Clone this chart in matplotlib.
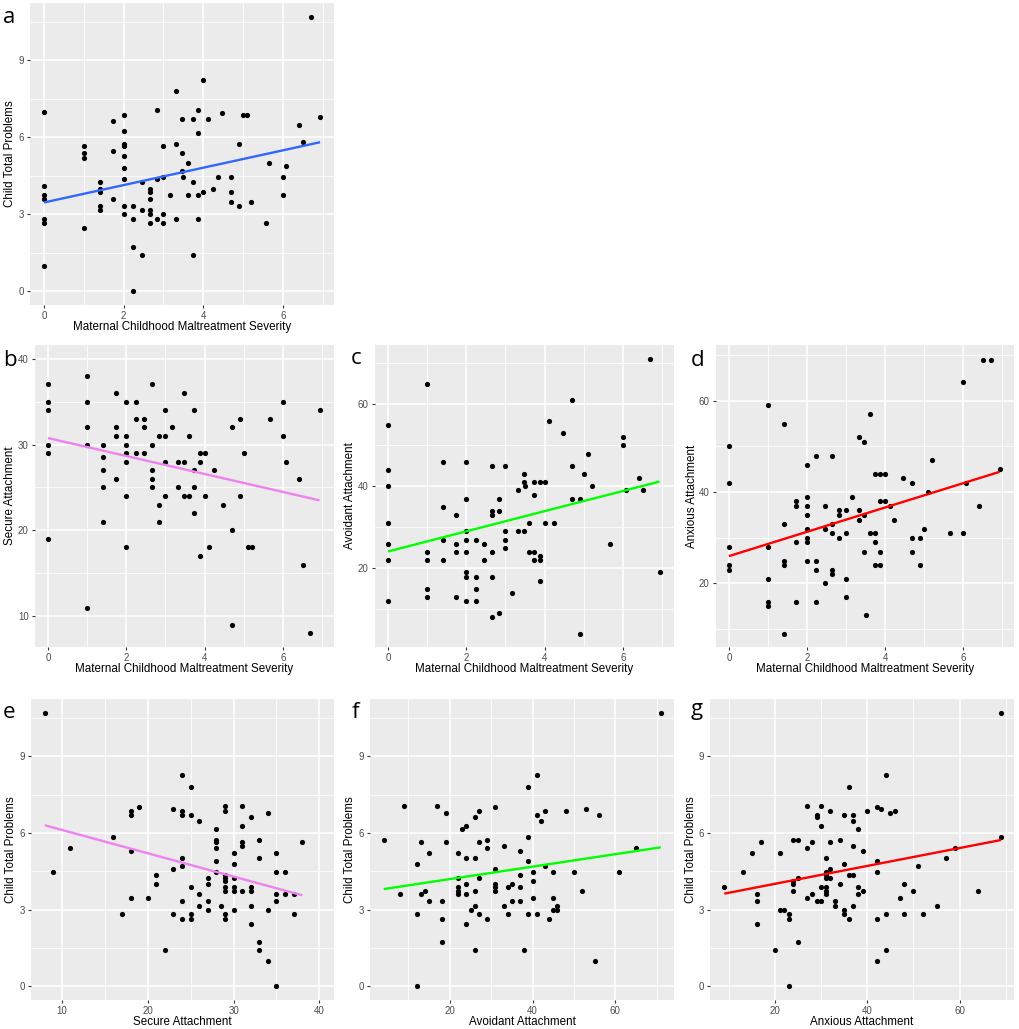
import numpy as np
import matplotlib
matplotlib.use('Agg')
import matplotlib.pyplot as plt
from matplotlib.ticker import MultipleLocator

plt.rcParams['font.family'] = ['Liberation Sans', 'DejaVu Sans']

# a: maltreatment severity vs child total problems
a_x = [0, 0, 0, 0, 0, 0, 0, 1, 1, 1, 1, 1.41, 1.41, 1.41, 1.41, 1.41, 1.73, 1.73, 1.73,
       2, 2, 2, 2, 2, 2, 2, 2, 2, 2.24, 2.24, 2.24, 2.24, 2.45, 2.45, 2.45,
       2.65, 2.65, 2.65, 2.65, 2.65, 2.65, 2.83, 2.83, 2.83, 3, 3, 3, 3, 3.16,
       3.32, 3.32, 3.32, 3.46, 3.46, 3.46, 3.5, 3.61, 3.61, 3.74, 3.74, 3.74,
       3.87, 3.87, 3.87, 3.87, 4, 4, 4.12, 4.24, 4.36, 4.47, 4.69, 4.69, 4.69,
       4.9, 4.9, 5, 5.1, 5.2, 5.57, 5.66, 6, 6, 6.08, 6.4, 6.5, 6.7, 6.93]
a_y = [7.0, 4.12, 3.74, 3.61, 2.83, 2.65, 1.0, 5.66, 5.39, 5.2, 2.45, 4.24, 4.0, 3.87, 3.32, 3.16, 6.63, 5.48, 3.61,
       6.86, 6.25, 5.74, 5.66, 5.29, 4.8, 4.36, 3.32, 3.0, 3.32, 2.83, 1.73, 0, 4.24, 3.16, 1.41,
       4.0, 3.87, 3.61, 3.16, 3.0, 2.65, 7.07, 4.36, 2.83, 5.66, 4.47, 3.0, 2.65, 3.74,
       7.81, 5.74, 2.83, 6.71, 5.39, 4.69, 4.47, 5.0, 3.74, 6.71, 4.24, 1.41,
       7.07, 6.16, 3.74, 2.83, 8.25, 3.87, 6.71, 4.0, 4.47, 6.93, 4.47, 3.87, 3.46,
       5.74, 3.32, 6.86, 6.86, 3.46, 2.65, 5.0, 4.47, 3.74, 4.9, 6.48, 5.83, 10.68, 6.78]

# b: maltreatment severity vs secure attachment
b_x = [0, 0, 0, 0, 0, 0, 1, 1, 1, 1, 1, 1.41, 1.41, 1.41, 1.41, 1.41, 1.73, 1.73, 1.73, 1.73,
       2, 2, 2, 2, 2, 2, 2, 2.24, 2.24, 2.24, 2.45, 2.45, 2.45, 2.65, 2.65, 2.65, 2.65, 2.65,
       2.83, 2.83, 2.83, 3, 3, 3, 3, 3.16, 3.32, 3.32, 3.46, 3.46, 3.46, 3.61, 3.61,
       3.74, 3.74, 3.74, 3.74, 3.87, 3.87, 3.87, 4, 4, 4.12, 4.24, 4.47, 4.69, 4.69, 4.69,
       4.9, 4.9, 5, 5.1, 5.2, 5.66, 6, 6, 6.08, 6.4, 6.5, 6.7, 6.93]
b_y = [37, 35, 34, 30, 29, 19, 38, 35, 32, 30, 11, 30, 28.5, 27, 25, 21, 36, 32, 31, 26,
       35, 31, 30, 29, 28, 24, 18, 35, 33, 29, 33, 32, 29, 37, 30, 27, 26, 25,
       31, 23, 21, 34, 31, 28, 24, 32, 28, 25, 36, 28, 24, 31, 24,
       34, 27, 25, 22, 29, 28, 17, 29, 24, 18, 27, 23, 32, 20, 9,
       33, 24, 29, 18, 18, 33, 35, 31, 28, 26, 16, 8, 34]

# c: maltreatment severity vs avoidant attachment
c_x = [0, 0, 0, 0, 0, 0, 0, 1, 1, 1, 1, 1, 1.41, 1.41, 1.41, 1.41, 1.73, 1.73, 1.73, 1.73,
       2, 2, 2, 2, 2, 2, 2, 2, 2.24, 2.24, 2.24, 2.24, 2.45, 2.45,
       2.65, 2.65, 2.65, 2.65, 2.65, 2.65, 2.83, 2.83, 2.83, 3, 3, 3, 3, 3.16,
       3.32, 3.32, 3.46, 3.46, 3.46, 3.5, 3.61, 3.61, 3.74, 3.74, 3.74, 3.74,
       3.87, 3.87, 3.87, 3.87, 4, 4, 4.12, 4.24, 4.47, 4.69, 4.69, 4.69, 4.9, 4.9,
       5, 5.1, 5.2, 5.66, 6, 6, 6.08, 6.4, 6.5, 6.7, 6.93]
c_y = [55, 44, 40, 31, 26, 22, 12, 65, 24, 22, 15, 13, 46, 35, 27, 22, 33, 26, 24, 13,
       46, 37, 29, 27, 24, 19, 18, 12, 27, 18, 15, 12, 26, 22,
       45, 34, 33, 24, 18, 8, 37, 34, 9, 45, 29, 27, 25, 14,
       39, 29, 43, 41, 29, 40, 31, 24, 41, 38, 24, 22,
       41, 23, 22, 17, 41, 31, 56, 31, 53, 61, 45, 37, 37, 4,
       43, 48, 40, 26, 52, 50, 39, 42, 39, 71, 19]

# d: maltreatment severity vs anxious attachment
d_x = [0, 0, 0, 0, 0, 1, 1, 1, 1, 1, 1.41, 1.41, 1.41, 1.41, 1.41, 1.73, 1.73, 1.73, 1.73,
       2, 2, 2, 2, 2, 2, 2, 2, 2.24, 2.24, 2.24, 2.24, 2.45, 2.45, 2.45,
       2.65, 2.65, 2.65, 2.65, 2.65, 2.83, 2.83, 2.83, 3, 3, 3, 3, 3.16,
       3.32, 3.32, 3.32, 3.46, 3.46, 3.46, 3.5, 3.61, 3.61, 3.74, 3.74, 3.74, 3.74,
       3.87, 3.87, 3.87, 3.87, 4, 4, 4.12, 4.24, 4.47, 4.69, 4.69, 4.69, 4.9, 4.9,
       5, 5.1, 5.2, 5.66, 6, 6, 6.08, 6.4, 6.5, 6.7, 6.93]
d_y = [50, 42, 28, 24, 23, 59, 28, 21, 16, 15, 55, 33, 25, 24, 9, 38, 37, 29, 16,
       46, 39, 37, 35, 32, 30, 29, 25, 48, 25, 23, 16, 37, 32, 20,
       48, 33, 31, 23, 22, 36, 35, 30, 36, 31, 21, 17, 39,
       52, 36, 34, 51, 35, 27, 13, 57, 31, 44, 31, 29, 24,
       44, 38, 27, 24, 44, 38, 37, 34, 43, 42, 30, 27, 30, 24,
       32, 40, 47, 31, 64, 31, 42, 37, 69, 69, 45]

# e: secure attachment vs child total problems
e_x = [8, 9, 11, 16, 17, 18, 18, 18, 18, 19, 20, 21, 21, 22, 23, 23, 23,
       24, 24, 24, 24, 24, 24, 24, 25, 25, 25, 25, 25, 26, 26, 26, 27, 27, 27, 27,
       28, 28, 28, 28, 28, 28, 28.5, 29, 29, 29, 29, 29, 29, 29, 29, 29,
       30, 30, 30, 30, 30, 30, 31, 31, 31, 31, 31, 32, 32, 32, 32, 32,
       33, 33, 33, 33, 34, 34, 34, 35, 35, 35, 35, 35, 36, 36, 37, 37, 38]
e_y = [10.68, 4.47, 5.39, 5.83, 2.83, 6.86, 6.71, 5.29, 3.46, 7.0, 3.46, 4.36, 4.0, 1.41, 6.93, 4.58, 2.83,
       8.25, 6.86, 6.71, 5.0, 4.69, 3.32, 2.65, 7.81, 6.71, 3.87, 2.83, 2.65, 6.48, 3.61, 3.16, 4.24, 4.0, 3.32, 3.0,
       6.16, 5.74, 5.66, 5.39, 4.9, 4.47, 3.16, 7.07, 6.86, 4.36, 4.24, 4.12, 3.87, 3.74, 2.83, 2.65,
       5.2, 4.8, 4.24, 3.87, 3.74, 3.0, 7.07, 6.25, 5.66, 5.48, 3.74, 6.63, 3.87, 3.74, 3.16, 2.45,
       5.74, 5.0, 1.73, 1.41, 6.78, 3.0, 1.0, 5.2, 4.47, 3.61, 3.32, 0, 4.47, 3.61, 3.61, 2.83, 5.66]

# f: avoidant attachment vs child total problems
f_x = [4, 8, 9, 12, 12, 12, 13, 13, 14, 15, 15, 17, 18, 18, 18, 19, 19,
       22, 22, 22, 22, 22, 23, 24, 24, 24, 24, 24, 25, 26, 26, 26, 26, 26,
       27, 27, 27, 27, 29, 29, 29, 31, 31, 31, 31, 31, 33, 33, 34, 34, 35, 35,
       37, 37, 37, 37, 38, 39, 39, 39, 39, 40, 40, 40, 41, 41, 41, 42, 43, 43, 44,
       45, 45, 45, 46, 46, 48, 50, 52, 53, 55, 56, 61, 65, 71]
f_y = [5.74, 3.61, 7.07, 4.8, 2.83, 0, 5.66, 3.61, 3.74, 5.2, 3.32, 7.07, 3.32, 2.65, 1.73, 6.78, 5.66,
       5.2, 4.24, 3.87, 3.74, 3.61, 6.16, 6.25, 5.0, 4.0, 3.61, 2.45, 3.0, 6.63, 5.0, 3.74, 3.16, 1.41,
       6.86, 5.66, 4.24, 2.83, 5.74, 5.39, 2.65, 7.0, 4.58, 4.0, 3.87, 3.74, 5.48, 3.16, 3.87, 2.83, 4.0, 3.32,
       5.29, 4.36, 3.87, 3.32, 1.41, 7.81, 5.83, 4.9, 2.83, 4.47, 4.12, 3.46, 8.25, 6.71, 2.83, 6.48, 6.86, 4.69, 2.65,
       4.47, 3.46, 3.0, 3.16, 3.0, 6.86, 4.47, 3.74, 6.93, 1.0, 6.71, 4.47, 5.39, 10.68]

# g: anxious attachment vs child total problems
g_x = [9, 13, 15, 16, 16, 16, 17, 20, 21, 21, 22, 23, 23, 23, 24, 24, 24, 24, 25, 25, 25,
       27, 27, 27, 28, 28, 29, 29, 29, 30, 30, 30, 30, 31, 31, 31, 31, 31, 31, 31,
       32, 32, 32, 32, 33, 33, 34, 34, 35, 35, 35, 35, 36, 36, 36, 37, 37, 37, 37, 37,
       38, 38, 38, 39, 39, 40, 42, 42, 42, 42, 42, 43, 44, 44, 44, 45, 46, 47, 48, 48,
       50, 51, 52, 55, 57, 59, 64, 69, 69]
g_y = [3.87, 4.47, 5.2, 3.61, 3.32, 2.45, 5.66, 1.41, 5.2, 3.0, 3.0, 2.83, 2.65, 0, 5.74, 4.12, 4.0, 3.74, 5.74, 4.24, 1.73,
       7.07, 5.39, 3.46, 5.66, 3.61, 6.71, 6.63, 3.32, 7.07, 6.25, 3.87, 3.32, 5.0, 4.47, 4.36, 4.24, 3.87, 3.74, 3.61,
       6.86, 5.66, 4.58, 4.24, 3.32, 3.16, 5.74, 4.0, 6.71, 4.8, 3.0, 2.83, 7.81, 4.36, 2.65, 6.71, 6.48, 5.48, 4.36, 3.16,
       6.16, 3.87, 3.61, 5.29, 3.74, 6.86, 7.0, 4.9, 4.47, 2.65, 1.0, 6.93, 8.25, 2.83, 1.41, 6.78, 6.86, 3.46, 4.0, 2.83,
       3.74, 4.69, 2.83, 3.16, 5.0, 5.39, 3.74, 10.68, 5.83]

sev_label = 'Maternal Childhood Maltreatment Severity'
cbcl_label = 'Child Total Problems'

W, H = 1020, 1029
fig = plt.figure(figsize=(W / 100, H / 100), dpi=100)


# ggplot2風の散布図パネルを1つ描く
def panel(box, x, y, color, xlim, ylim, xstep, ystep, xlabel, ylabel, letter, letter_pos, ylab_x):
    l, t, r, b = box
    ax = fig.add_axes([l / W, 1 - b / H, (r - l) / W, (b - t) / H])
    ax.set_facecolor('#EBEBEB')
    for s in ax.spines.values():
        s.set_visible(False)
    ax.xaxis.set_major_locator(MultipleLocator(xstep))
    ax.xaxis.set_minor_locator(MultipleLocator(xstep / 2))
    ax.yaxis.set_major_locator(MultipleLocator(ystep))
    ax.yaxis.set_minor_locator(MultipleLocator(ystep / 2))
    ax.grid(which='major', color='white', lw=1.1)
    ax.grid(which='minor', color='white', lw=0.55)
    ax.set_axisbelow(True)
    ax.tick_params(which='minor', length=0)
    ax.tick_params(which='major', length=2.5, width=0.8, color='#333333',
                   labelcolor='#4D4D4D', labelsize=7, pad=2)
    ax.scatter(x, y, s=14, c='black', linewidths=0, zorder=3)
    k, c0 = np.polyfit(x, y, 1)
    xs = np.array([min(x), max(x)])
    ax.plot(xs, k * xs + c0, color=color, lw=1.7, zorder=4, solid_capstyle='butt')
    ax.set_xlim(xlim)
    ax.set_ylim(ylim)
    fig.text((l + r) / 2 / W, 1 - (b + 22) / H, xlabel, ha='center', va='center', fontsize=8.4)
    fig.text(ylab_x / W, 1 - (t + b) / 2 / H, ylabel, rotation=90, ha='center', va='center', fontsize=8.4)
    fig.text(letter_pos[0] / W, 1 - letter_pos[1] / H, letter, fontsize=16,
             family=['Open Sans', 'DejaVu Sans'], ha='left', va='baseline')
    return ax


panel((30, 3, 334, 305), a_x, a_y, '#3366FF', (-0.35, 7.28), (-0.535, 11.235), 2, 3,
      sev_label, cbcl_label, 'a', (3, 23), 10)
panel((35, 345, 334, 647), b_x, b_y, 'violet', (-0.33, 7.3), (6.4, 41.6), 2, 10,
      sev_label, 'Secure Attachment', 'b', (3, 366), 10)
panel((375, 345, 674, 647), c_x, c_y, '#00FF00', (-0.33, 7.3), (0.8, 74.5), 2, 20,
      sev_label, 'Avoidant Attachment', 'c', (351, 364), 350)
panel((716, 345, 1014, 647), d_x, d_y, '#FF0000', (-0.33, 7.3), (6.1, 72.2), 2, 20,
      sev_label, 'Anxious Attachment', 'd', (691, 366), 692)
panel((31, 699, 334, 1000), e_x, e_y, 'violet', (6.4, 41.7), (-0.535, 11.235), 10, 3,
      'Secure Attachment', cbcl_label, 'e', (3, 718), 11)
panel((370, 699, 674, 1000), f_x, f_y, '#00FF00', (0.7, 74.2), (-0.535, 11.235), 20, 3,
      'Avoidant Attachment', cbcl_label, 'f', (352, 718), 350)
panel((710, 699, 1014, 1000), g_x, g_y, '#FF0000', (5.9, 71.8), (-0.535, 11.235), 20, 3,
      'Anxious Attachment', cbcl_label, 'g', (691, 715), 691)

fig.savefig('out.png', dpi=100)
